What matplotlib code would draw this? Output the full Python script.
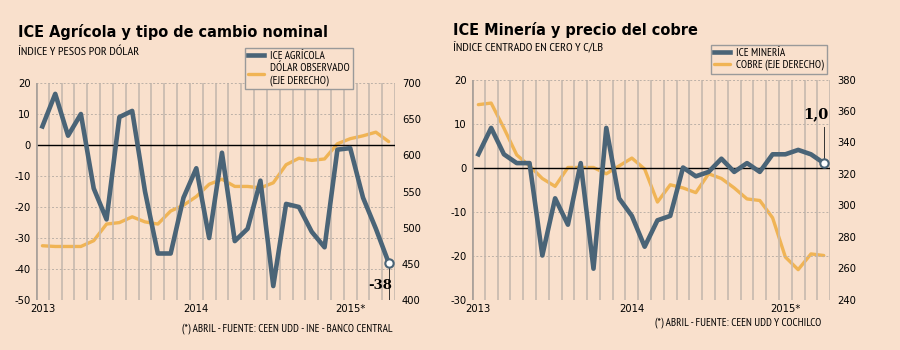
import numpy as np
import matplotlib
matplotlib.use("Agg")
import matplotlib.pyplot as plt

# months Jan 2013 .. Apr 2015
months = [f"{y}-{m:02d}" for y in (2013, 2014, 2015) for m in range(1, 13)][:28]
year_labels = ["2013", "2014", "2015*"]
year_pos = [0, 12, 24]

# ICE Agricola (left axis) and dolar observado (right axis)
agricola = [6, 16.5, 3, 10, -14, -24, 9, 11, -15, -35, -35, -17, -7.5, -30,
            -2.5, -31, -27, -11.5, -45.5, -19, -20, -28, -33, -1.5, -1, -17,
            -27, -38]
dolar = [475, 474, 474, 474, 482, 505, 507, 515, 508, 505, 523, 531, 543, 560,
         567, 557, 557, 555, 562, 587, 596, 593, 595, 616, 623, 627, 632, 619]

# ICE Mineria (left axis) and cobre (right axis)
mineria = [3, 9, 3, 1, 1, -20, -7, -13, 1, -23, 9, -7, -11, -18, -12, -11, 0,
           -2, -1, 2, -1, 1, -1, 3, 3, 4, 3, 1.0]
cobre = [364, 365, 349, 332, 325, 317, 312, 324, 324, 324, 320, 325, 330, 323,
         302, 313, 311, 308, 320, 317, 311, 304, 303, 292, 267, 259, 269, 268]

BG = "#F9E0CC"
BLUE = "#4A6477"
ORANGE = "#F0B455"
GRID = "#C6B9AE"
NARROW = "PT Sans Narrow"
TICKFONT = dict(family="DejaVu Sans", stretch="condensed", size=8)

fig = plt.figure(figsize=(9, 3.5), dpi=100, facecolor=BG)
x = np.arange(len(months)) + 0.5


def panel(rect, left, right, lylim, lticks, rylim, rticks, labels, leg_xy):
    ax = fig.add_axes(rect)
    ax.set_xlim(0, len(months))
    ax.set_ylim(*lylim)
    for i in range(1, len(months) + 1):
        ax.axvline(i, color=GRID, lw=1.2, zorder=0)
    for t in lticks:
        if t != 0:
            ax.axhline(t, color="#BDB1A7", lw=0.7, ls=(0, (2, 2)), zorder=0)
    ax.axhline(0, color="black", lw=1.0, zorder=1)
    for s in ax.spines.values():
        s.set_visible(False)
    ax.axvline(0, color="#ABA29B", lw=2.0, zorder=1)
    ax.set_yticks(lticks)
    ax.set_yticklabels([str(t) for t in lticks], fontdict=TICKFONT)
    ax.tick_params(axis="y", length=0, pad=4)
    ax.set_xticks([p + 0.5 for p in year_pos])
    ax.set_xticklabels(year_labels, fontdict=TICKFONT)
    ax.tick_params(axis="x", length=0, pad=3)

    ax2 = ax.twinx()
    ax2.set_ylim(*rylim)
    ax2.set_yticks(rticks)
    ax2.set_yticklabels([str(t) for t in rticks], fontdict=TICKFONT)
    ax2.tick_params(axis="y", length=0, pad=5)
    for s in ax2.spines.values():
        s.set_visible(False)
    l2, = ax2.plot(x, right, color=ORANGE, lw=2.4, solid_capstyle="round",
                   zorder=2)
    ax.set_zorder(ax2.get_zorder() + 1)
    ax.patch.set_visible(False)
    ax2.set_facecolor(BG)
    l1, = ax.plot(x, left, color=BLUE, lw=3.3, zorder=3)
    ax.plot(x[-1], left[-1], "o", ms=6, mfc="white", mec=BLUE, mew=1.5,
            zorder=4)

    fig.legend([l1, l2], labels, loc="upper left", bbox_to_anchor=leg_xy,
               bbox_transform=fig.transFigure, borderaxespad=0,
               prop=dict(family=NARROW, size=8.1), facecolor=BG,
               edgecolor="#9A9A9A", fancybox=False, framealpha=1,
               handlelength=1.4, borderpad=0.3, labelspacing=0.1,
               handletextpad=0.5)
    return ax


axl = panel([0.040, 1 - 300 / 350, 0.399, 217 / 350], agricola, dolar,
            (-50, 20), [-50, -40, -30, -20, -10, 0, 10, 20],
            (400, 700), [400, 450, 500, 550, 600, 650, 700],
            ["ICE AGRÍCOLA", "DÓLAR OBSERVADO\n(EJE DERECHO)"],
            (0.272, 1 - 48 / 350))
axr = panel([0.5244, 1 - 299.5 / 350, 0.398, 220 / 350], mineria, cobre,
            (-30, 20), [-30, -20, -10, 0, 10, 20],
            (240, 380), [240, 260, 280, 300, 320, 340, 360, 380],
            ["ICE MINERÍA", "COBRE (EJE DERECHO)"],
            (0.790, 1 - 45 / 350))

# last-value callouts
axl.plot([x[-1], x[-1]], [agricola[-1], -50], color="#333333", lw=0.7,
         zorder=3)
axl.text(x[-1] + 0.3, -45.3, f"{agricola[-1]:.0f}",
         ha="right", va="center", fontsize=9.5, fontweight="bold",
         family="DejaVu Serif", zorder=4)
axr.plot([x[-1], x[-1]], [mineria[-1] + 0.9, 9.2], color="#333333", lw=0.7,
         zorder=3)
axr.text(x[-1] + 0.35, 10.6, f"{mineria[-1]:.1f}".replace(".", ","),
         ha="right", va="bottom", fontsize=10.5, fontweight="bold",
         family="DejaVu Serif", zorder=4)

# titles, subtitles, sources
TITLE = dict(family="DejaVu Sans", stretch="condensed", fontweight="bold",
             size=11.6, va="baseline")
fig.text(0.020, 1 - 37 / 350, "ICE Agrícola y tipo de cambio nominal", **TITLE)
fig.text(0.503, 1 - 35 / 350, "ICE Minería y precio del cobre", **TITLE)
fig.text(0.020, 1 - 55 / 350, "ÍNDICE Y PESOS POR DÓLAR", family=NARROW,
         size=8.8, va="baseline")
fig.text(0.503, 1 - 50 / 350, "ÍNDICE CENTRADO EN CERO Y C/LB", family=NARROW,
         size=8.8, va="baseline")
fig.text(0.436, 1 - 331 / 350,
         "(*) ABRIL - FUENTE: CEEN UDD - INE - BANCO CENTRAL",
         ha="right", va="baseline", family=NARROW, size=8)
fig.text(0.913, 1 - 325 / 350, "(*) ABRIL - FUENTE: CEEN UDD Y COCHILCO",
         ha="right", va="baseline", family=NARROW, size=8)

fig.savefig("out.png", dpi=100, facecolor=BG)
